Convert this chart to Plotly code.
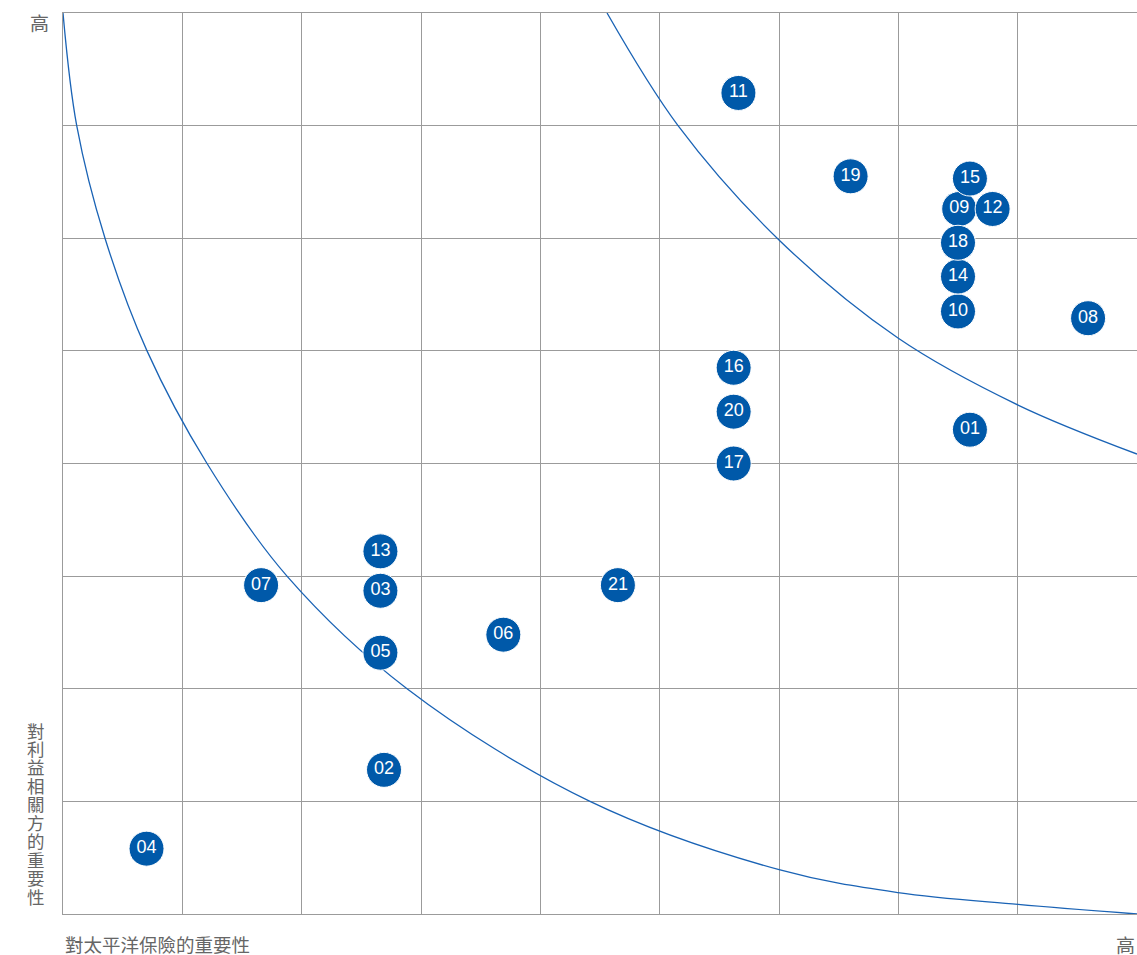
import plotly.graph_objects as go

# --- data (grid units: x 0..9, y 0..8) ---
labels = ["01", "02", "03", "04", "05", "06", "07", "08", "09", "10", "11",
          "12", "13", "14", "15", "16", "17", "18", "19", "20", "21"]
x_vals = [7.60, 2.69, 2.66, 0.70, 2.66, 3.69, 1.66, 8.59, 7.51, 7.50, 5.66,
          7.79, 2.66, 7.50, 7.60, 5.62, 5.62, 7.50, 6.60, 5.62, 4.65]
y_vals = [4.30, 1.28, 2.87, 0.58, 2.32, 2.48, 2.92, 5.29, 6.26, 5.35, 7.29,
          6.26, 3.22, 5.66, 6.53, 4.85, 4.00, 5.96, 6.55, 4.46, 2.92]

# boundary curves
lower_x = [0.0, 0.115, 0.352, 0.704, 1.207, 1.877, 2.883, 4.416, 6.009, 6.997, 8.003, 9.0]
lower_y = [8.0, 7.0, 6.0, 5.0, 4.0, 3.0, 2.0, 1.0, 0.391, 0.190, 0.085, 0.0]
upper_x = [4.559, 5.154, 6.000, 6.997, 8.003, 9.0]
upper_y = [8.0, 7.0, 5.985, 5.114, 4.519, 4.084]

x_title = "對太平洋保險的重要性"
y_title = "對利益相關方的重要性"
high = "高"

BLUE = "#0059a9"
LINE = "#1a63b5"
GRID = "#9b9b9b"
TXT = "#666666"
CJK = "Noto Sans CJK TC"

fig = go.Figure()
fig.add_trace(go.Scatter(x=lower_x, y=lower_y, mode="lines",
                         line=dict(color=LINE, width=1.3, shape="spline", smoothing=1.0),
                         hoverinfo="skip", showlegend=False))
fig.add_trace(go.Scatter(x=upper_x, y=upper_y, mode="lines",
                         line=dict(color=LINE, width=1.3, shape="spline", smoothing=1.0),
                         hoverinfo="skip", showlegend=False))
fig.add_trace(go.Scatter(x=x_vals, y=y_vals, mode="markers+text", text=labels,
                         textposition="middle center",
                         textfont=dict(color="white", size=18, family="Liberation Sans"),
                         marker=dict(size=35, color=BLUE, line=dict(color="white", width=1)),
                         showlegend=False, cliponaxis=False))

ann = [
    dict(text=high, xref="paper", yref="paper", x=0, y=1, xanchor="right", yanchor="middle",
         xshift=-12, yshift=-9, showarrow=False, font=dict(family=CJK, size=19, color=TXT)),
    dict(text=x_title, xref="paper", yref="paper", x=0, y=0, xanchor="left", yanchor="top",
         yshift=-15, showarrow=False, font=dict(family=CJK, size=18.5, color=TXT)),
    dict(text=high, xref="paper", yref="paper", x=1, y=0, xanchor="right", yanchor="top",
         yshift=-15, showarrow=False, font=dict(family=CJK, size=19, color=TXT)),
]
for i, ch in enumerate(y_title):
    ann.append(dict(text=ch, xref="paper", yref="paper", x=0, y=0, xanchor="center",
                    yanchor="middle", xshift=-27, yshift=184 - i * 18.45,
                    showarrow=False, font=dict(family=CJK, size=17.5, color=TXT)))

axis = dict(showgrid=True, gridcolor=GRID, gridwidth=1.3, dtick=1, tick0=0,
            showticklabels=False, ticks="", zeroline=False,
            showline=True, mirror=True, linecolor=GRID, linewidth=1.3, fixedrange=True)
fig.update_layout(
    width=1137, height=955,
    margin=dict(l=63, r=0, t=13, b=41),
    paper_bgcolor="white", plot_bgcolor="white",
    xaxis=dict(range=[0, 9], **axis),
    yaxis=dict(range=[0, 8], **axis),
    annotations=ann,
)
fig.write_html("out.html", config={"displayModeBar": False},
               post_script="document.body.style.margin='0';document.body.style.overflow='hidden';")
